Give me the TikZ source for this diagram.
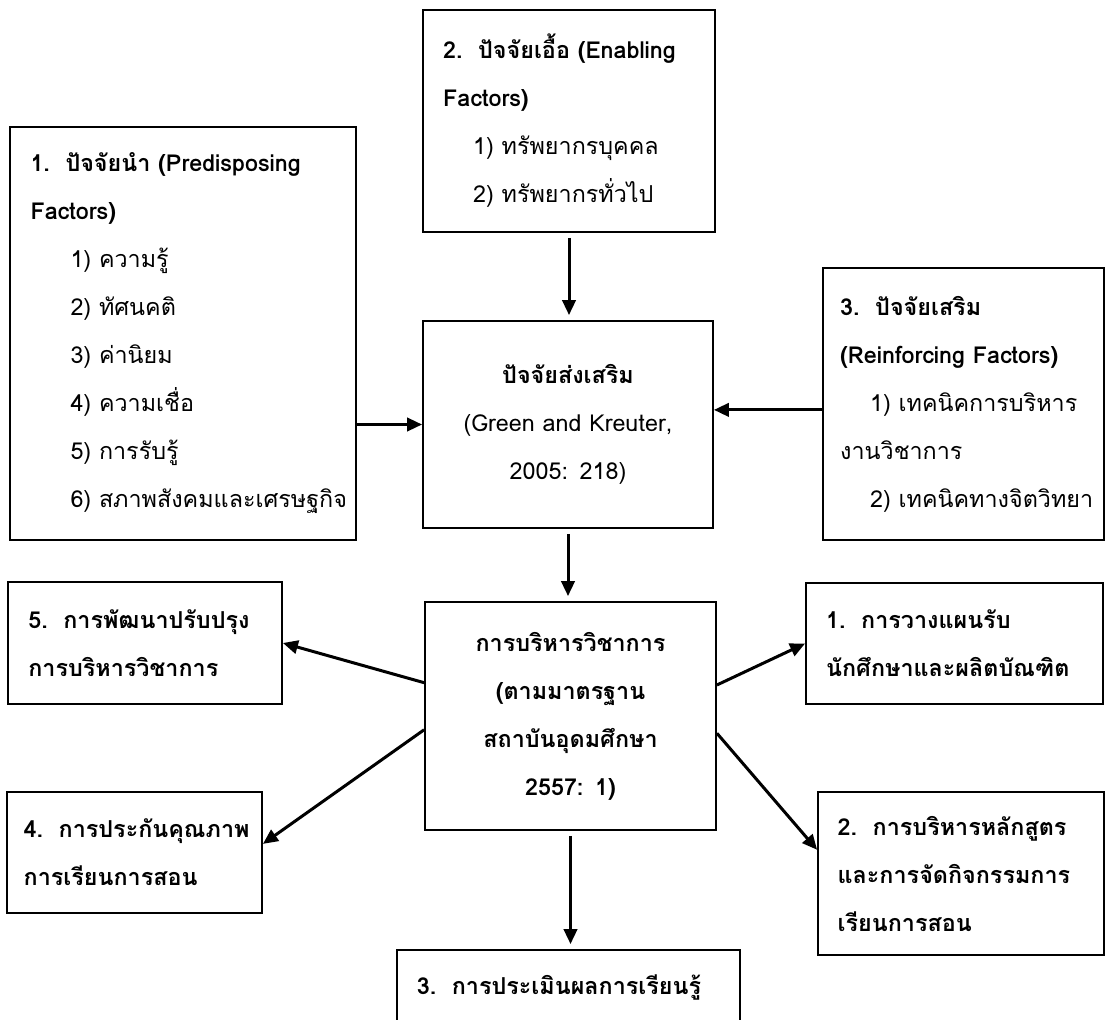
\documentclass[tikz,border=0pt]{standalone}
\usepackage{fontspec}
\setmainfont[Script=Thai]{Loma}
\usetikzlibrary{calc, arrows.meta}

\newcommand{\boxfont}{\fontsize{14}{28.8}\selectfont}

\tikzset{
    box/.style = {draw, rectangle, line width=1.1pt, inner sep=0pt, align=left, font=\boxfont},
    outbox/.style = {box, font=\boxfont\bfseries},
    arr/.style = {-{Triangle[length=9pt, width=8pt]}, line width=1.8pt},
}

\begin{document}
\begin{tikzpicture}[x=0.6pt, y=-0.6pt]
    \useasboundingbox (0,0) rectangle (1112,1019);

    % factors
    \node[box, minimum width=175.2pt, minimum height=133.2pt, text width=151pt] (enab) at (569,121)
        {\textbf{2.~~ปัจจัยเอื้อ~(Enabling}\\ \textbf{Factors)}\\
         \hspace*{18pt}1)~ทรัพยากรบุคคล\\ \hspace*{18pt}2)~ทรัพยากรทั่วไป};
    \node[box, minimum width=207.6pt, minimum height=247.8pt, text width=183pt] (pred) at (183,333.5)
        {\textbf{1.~~ปัจจัยนำ~(Predisposing}\\ \textbf{Factors)}\\
         \hspace*{24pt}1)~ความรู้\\ \hspace*{24pt}2)~ทัศนคติ\\ \hspace*{24pt}3)~ค่านิยม\\
         \hspace*{24pt}4)~ความเชื่อ\\ \hspace*{24pt}5)~การรับรู้\\ \hspace*{24pt}6)~สภาพสังคมและเศรษฐกิจ};
    \node[box, minimum width=168.6pt, minimum height=163.2pt, text width=148pt] (reinf) at (963.5,404)
        {\textbf{3.~~ปัจจัยเสริม}\\ \textbf{(Reinforcing~Factors)}\\
         \hspace*{18pt}1)~เทคนิคการบริหาร\\ งานวิชาการ\\ \hspace*{18pt}2)~เทคนิคทางจิตวิทยา};
    \node[box, align=center, minimum width=174pt, minimum height=124.2pt, text width=150pt] (cent) at (568,424.5)
        {\textbf{ปัจจัยส่งเสริม}\\ (Green and Kreuter,\\ 2005: 218)};

    % academic administration
    \node[outbox, align=center, minimum width=174.6pt, minimum height=136.8pt, text width=150pt] (mid) at (570.5,716)
        {การบริหารวิชาการ\\ (ตามมาตรฐาน\\ สถาบันอุดมศึกษา\\ 2557: 1)};
    \node[outbox, minimum width=178.2pt, minimum height=72.6pt, text width=154pt] (plan) at (954.5,643.5)
        {1.~~การวางแผนรับ\\ นักศึกษาและผลิตบัณฑิต};
    \node[outbox, minimum width=171.6pt, minimum height=97.8pt, text width=148pt] (curr) at (961,873.5)
        {2.~~การบริหารหลักสูตร\\ และการจัดกิจกรรมการ\\ เรียนการสอน};
    \node[outbox, minimum width=205.8pt, minimum height=44.4pt, text width=182pt] (eval) at (568.5,987)
        {3.~~การประเมินผลการเรียนรู้};
    \node[outbox, minimum width=153pt, minimum height=72.6pt, text width=133pt] (qa) at (134.5,852.5)
        {4.~~การประกันคุณภาพ\\ การเรียนการสอน};
    \node[outbox, minimum width=164.4pt, minimum height=73.2pt, text width=140pt] (dev) at (145,643)
        {5.~~การพัฒนาปรับปรุง\\ การบริหารวิชาการ};

    \coordinate (cin) at ($(cent.north east)!0.43!(cent.south east)$);

    \draw[arr, shorten <=3pt, shorten >=3pt] (enab.south) -- (enab.south |- cent.north);
    \draw[arr] (pred.east |- cent.west) -- (cent.west);
    \draw[arr] (reinf.west |- cin) -- (cin);
    \draw[arr, shorten <=3pt, shorten >=3pt] (cent.south) -- (cent.south |- mid.north);
    \draw[arr] ($(mid.north west)!0.355!(mid.south west)$) -- (dev.east);
    \draw[arr] ($(mid.north west)!0.56!(mid.south west)$) -- ($(qa.north east)!0.43!(qa.south east)$);
    \draw[arr] ($(mid.north east)!0.365!(mid.south east)$) -- (plan.west);
    \draw[arr] ($(mid.north east)!0.575!(mid.south east)$) -- ($(curr.north west)!0.356!(curr.south west)$);
    \draw[arr, shorten <=3pt, shorten >=3pt] (mid.south) -- (mid.south |- eval.north);
\end{tikzpicture}
\end{document}
